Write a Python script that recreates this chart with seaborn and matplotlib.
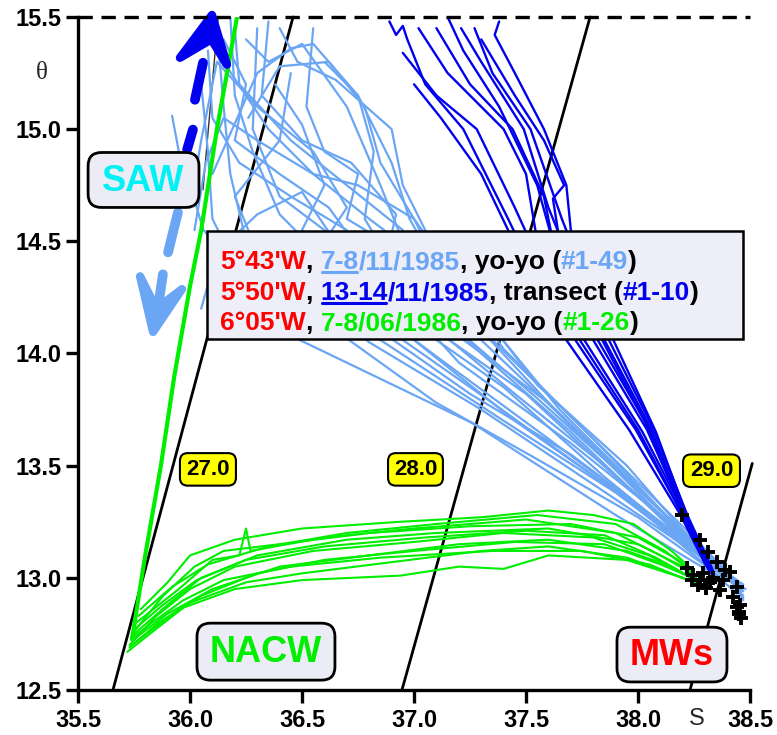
import matplotlib
matplotlib.use('Agg')
import pandas as pd
import seaborn as sns
import matplotlib.pyplot as plt
from matplotlib.patches import FancyBboxPatch

# ---- data (salinity S, potential temperature theta) ----
# 5 43'W yo-yo casts (light blue)
lb_S = [
    [36.12, 36.15, 36.18, 36.25, 36.60, 36.80, 37.30, 37.90, 38.30, 38.45, 38.46],
    [36.25, 36.35, 36.50, 36.70, 36.85, 36.95, 37.20, 37.35, 37.75, 38.10, 38.32, 38.45],
    [36.05, 36.08, 36.10, 36.20, 36.35, 36.49, 37.26, 37.90, 38.30, 38.44],
    [36.30, 36.28, 36.40, 36.60, 36.90, 37.10, 37.50, 37.90, 38.20, 38.35, 38.47],
    [36.15, 36.35, 36.55, 36.75, 37.00, 37.10, 37.30, 37.70, 38.20, 38.40, 38.47],
    [36.45, 36.40, 36.20, 36.30, 36.60, 36.85, 37.40, 37.90, 38.30, 38.44],
    [36.60, 36.75, 36.82, 36.78, 36.90, 37.10, 37.60, 38.00, 38.30, 38.46],
    [35.92, 35.95, 36.00, 36.06, 36.15, 36.35, 36.71, 37.10, 37.53, 38.00, 38.32, 38.44],
    [36.20, 36.22, 36.45, 36.70, 36.95, 37.00, 37.20, 37.55, 38.05, 38.35, 38.45],
    [36.38, 36.50, 36.60, 36.50, 36.80, 37.00, 37.45, 37.95, 38.30, 38.48],
    [36.10, 36.30, 36.45, 36.55, 36.75, 36.90, 36.98, 37.15, 37.35, 37.80, 38.25, 38.43],
    [36.55, 36.52, 36.60, 36.75, 36.70, 36.95, 37.05, 37.30, 37.70, 38.15, 38.40, 38.46],
    [36.00, 36.05, 36.12, 36.30, 36.55, 36.70, 36.60, 36.90, 37.40, 37.85, 38.28, 38.45],
    [36.18, 36.20, 36.28, 36.40, 36.62, 36.88, 37.15, 37.60, 38.05, 38.33, 38.46],
    [36.08, 36.10, 36.22, 36.45, 36.70, 36.62, 36.85, 37.25, 37.70, 38.10, 38.36, 38.47],
    [36.35, 36.32, 36.50, 36.72, 36.92, 36.88, 37.05, 37.45, 37.85, 38.25, 38.44],
    [36.02, 36.07, 36.15, 36.30, 36.55, 36.80, 37.20, 37.65, 38.10, 38.38, 38.47],
    [36.26, 36.40, 36.62, 36.78, 36.85, 37.00, 37.25, 37.55, 37.95, 38.28, 38.45],
    [36.05, 36.12, 36.30, 36.50, 36.58, 36.75, 36.95, 37.35, 37.85, 38.25, 38.44],
    [36.40, 36.48, 36.65, 36.90, 36.95, 37.10, 37.40, 37.80, 38.20, 38.42],
    [36.15, 36.25, 36.20, 36.40, 36.62, 36.80, 37.20, 37.70, 38.15, 38.40, 38.47],
]
lb_T = [
    [15.45, 15.10, 14.80, 14.50, 14.20, 14.05, 13.75, 13.35, 13.08, 12.98, 12.92],
    [15.40, 15.30, 15.38, 15.10, 14.75, 14.50, 14.20, 14.05, 13.62, 13.30, 13.08, 12.95],
    [15.20, 14.90, 14.60, 14.40, 14.20, 14.06, 13.69, 13.28, 13.04, 12.97],
    [15.45, 15.00, 14.70, 14.55, 14.30, 14.10, 13.82, 13.45, 13.20, 13.05, 12.97],
    [15.30, 15.00, 14.80, 14.75, 14.60, 14.40, 14.06, 13.68, 13.18, 13.02, 12.90],
    [15.25, 14.95, 14.70, 14.45, 14.25, 14.06, 13.70, 13.38, 13.08, 12.99],
    [15.30, 15.15, 14.90, 14.60, 14.40, 14.15, 13.78, 13.40, 13.10, 12.96],
    [15.06, 14.90, 14.75, 14.55, 14.45, 14.30, 14.06, 13.78, 13.54, 13.27, 13.04, 12.93],
    [15.45, 15.20, 14.95, 14.75, 14.55, 14.35, 14.10, 13.80, 13.35, 13.06, 12.98],
    [15.20, 15.02, 14.75, 14.55, 14.30, 14.06, 13.70, 13.35, 13.06, 12.95],
    [14.80, 15.25, 15.36, 15.38, 15.15, 14.85, 14.60, 14.30, 14.06, 13.62, 13.18, 12.99],
    [15.45, 15.10, 14.90, 14.80, 14.60, 14.45, 14.25, 14.00, 13.65, 13.22, 13.03, 12.94],
    [14.65, 14.95, 15.30, 15.10, 14.90, 14.65, 14.50, 14.20, 13.85, 13.45, 13.10, 12.97],
    [15.50, 15.15, 14.90, 14.62, 14.40, 14.15, 13.95, 13.62, 13.28, 13.06, 12.96],
    [15.35, 15.05, 14.85, 14.70, 14.55, 14.40, 14.10, 13.82, 13.55, 13.25, 13.05, 12.92],
    [15.48, 15.15, 14.95, 14.85, 14.62, 14.45, 14.15, 13.82, 13.50, 13.14, 12.99],
    [14.55, 14.85, 15.05, 14.95, 14.80, 14.60, 14.30, 13.75, 13.30, 13.05, 12.94],
    [15.05, 15.28, 15.30, 15.10, 14.85, 14.60, 14.25, 13.86, 13.50, 13.12, 12.98],
    [14.20, 14.45, 14.62, 14.72, 14.60, 14.35, 14.06, 13.78, 13.42, 13.12, 12.96],
    [15.45, 15.30, 15.22, 15.00, 14.75, 14.45, 14.02, 13.62, 13.20, 13.00],
    [15.40, 15.20, 14.95, 14.80, 14.65, 14.40, 13.96, 13.60, 13.24, 13.02, 12.91],
]

# 5 50'W transect casts (dark blue)
db_S = [
    [36.89, 36.92, 36.95, 36.97, 37.05, 37.22, 37.42, 37.68, 37.96, 38.19, 38.30, 38.34],
    [36.95, 37.10, 37.28, 37.45, 37.72, 37.99, 38.20, 38.33],
    [37.02, 37.15, 37.40, 37.50, 37.55, 37.76, 38.02, 38.20, 38.32],
    [37.10, 37.25, 37.44, 37.58, 37.62, 37.80, 38.04, 38.21, 38.33],
    [37.21, 37.30, 37.49, 37.60, 37.84, 38.05, 38.21, 38.34],
    [37.27, 37.35, 37.52, 37.66, 37.87, 38.07, 38.22, 38.34],
    [37.38, 37.36, 37.45, 37.58, 37.68, 37.70, 37.89, 38.08, 38.22, 38.33],
    [37.30, 37.45, 37.58, 37.67, 37.62, 37.65, 37.85, 38.06, 38.21, 38.33],
    [37.00, 37.12, 37.30, 37.42, 37.60, 37.82, 38.03, 38.20, 38.32],
    [37.15, 37.22, 37.38, 37.55, 37.74, 38.00, 38.19, 38.32],
]
db_T = [
    [15.48, 15.42, 15.46, 15.40, 15.20, 15.00, 14.60, 14.06, 13.66, 13.28, 13.06, 13.00],
    [15.34, 15.15, 15.00, 14.65, 14.06, 13.66, 13.28, 13.02],
    [15.45, 15.25, 15.00, 14.80, 14.50, 14.06, 13.65, 13.30, 13.05],
    [15.45, 15.20, 15.00, 14.70, 14.50, 14.06, 13.66, 13.28, 13.03],
    [15.45, 15.30, 15.00, 14.65, 14.06, 13.66, 13.28, 13.01],
    [15.45, 15.25, 15.00, 14.60, 14.06, 13.66, 13.28, 13.02],
    [15.48, 15.42, 15.25, 15.00, 14.75, 14.55, 14.06, 13.65, 13.27, 13.04],
    [15.40, 15.15, 14.95, 14.75, 14.69, 14.50, 14.06, 13.66, 13.28, 13.02],
    [15.20, 15.05, 14.80, 14.55, 14.30, 14.06, 13.70, 13.30, 13.05],
    [15.50, 15.35, 15.10, 14.75, 14.06, 13.66, 13.30, 13.04],
]

# 6 05'W yo-yo casts (green): surface segment and NACW band
gr_surf_S = [35.74, 35.80, 35.87, 35.93, 36.00, 36.05, 36.12, 36.21]
gr_surf_T = [12.72, 13.10, 13.50, 13.90, 14.30, 14.55, 15.00, 15.50]
gr_S = [
    [35.78, 35.90, 36.00, 36.20, 36.50, 36.94, 37.30, 37.60, 37.80, 37.98, 38.15, 38.25],
    [35.76, 35.95, 36.10, 36.22, 36.25, 36.27, 36.60, 37.00, 37.50, 37.90, 38.10, 38.24],
    [35.74, 35.90, 36.05, 36.30, 36.70, 37.10, 37.60, 38.00, 38.20, 38.26],
    [35.73, 35.85, 36.00, 36.20, 36.55, 37.00, 37.40, 37.80, 38.05, 38.24],
    [35.74, 35.90, 36.10, 36.40, 36.80, 37.20, 37.60, 37.95, 38.15, 38.25],
    [35.72, 35.82, 36.00, 36.25, 36.50, 36.90, 37.30, 37.60, 37.95, 38.20, 38.26],
    [35.74, 35.95, 36.20, 36.50, 36.94, 37.20, 37.40, 37.60, 37.95, 38.20],
    [35.75, 35.88, 36.02, 36.15, 36.40, 36.80, 37.25, 37.70, 38.00, 38.18, 38.26],
    [35.73, 35.86, 36.05, 36.30, 36.60, 37.00, 37.45, 37.85, 38.10, 38.22],
    [35.77, 35.92, 36.08, 36.35, 36.70, 37.10, 37.55, 37.90, 38.12, 38.25],
    [35.75, 35.88, 36.03, 36.25, 36.60, 37.05, 37.50, 37.85, 38.08, 38.24],
    [35.74, 35.83, 35.97, 36.15, 36.45, 36.85, 37.35, 37.75, 38.05, 38.22],
]
gr_T = [
    [12.86, 12.98, 13.10, 13.17, 13.22, 13.25, 13.27, 13.30, 13.28, 13.24, 13.12, 13.03],
    [12.80, 12.95, 13.08, 13.10, 13.22, 13.12, 13.18, 13.22, 13.26, 13.20, 13.10, 13.02],
    [12.74, 12.88, 13.00, 13.10, 13.17, 13.20, 13.22, 13.15, 13.05, 13.00],
    [12.70, 12.83, 12.95, 13.05, 13.12, 13.16, 13.20, 13.18, 13.10, 13.00],
    [12.72, 12.84, 12.95, 13.05, 13.10, 13.15, 13.17, 13.12, 13.05, 12.99],
    [12.67, 12.75, 12.89, 12.98, 13.02, 13.07, 13.12, 13.14, 13.09, 13.00, 12.98],
    [12.70, 12.86, 12.95, 12.99, 13.01, 13.05, 13.04, 13.10, 13.08, 13.00],
    [12.76, 12.92, 13.05, 13.12, 13.15, 13.20, 13.23, 13.24, 13.18, 13.08, 13.01],
    [12.69, 12.80, 12.92, 13.02, 13.08, 13.12, 13.16, 13.15, 13.06, 13.01],
    [12.83, 12.96, 13.06, 13.14, 13.20, 13.24, 13.28, 13.24, 13.12, 13.02],
    [12.77, 12.88, 12.99, 13.08, 13.14, 13.18, 13.21, 13.19, 13.09, 13.00],
    [12.73, 12.80, 12.90, 12.99, 13.05, 13.09, 13.12, 13.12, 13.06, 12.99],
]

# bottom samples (+)
mw_S = [38.196, 38.277, 38.312, 38.353, 38.388, 38.219, 38.246, 38.277, 38.304,
        38.335, 38.366, 38.411, 38.442, 38.424, 38.455, 38.451, 38.460, 38.268,
        38.240, 38.290, 38.320, 38.380, 38.440, 38.450]
mw_T = [13.278, 13.167, 13.113, 13.069, 13.033, 13.042, 13.011, 12.989, 12.953,
        12.998, 12.944, 13.024, 12.958, 12.913, 12.878, 12.847, 12.820, 12.967,
        12.990, 13.020, 12.980, 12.990, 12.870, 12.840]

# isopycnals sigma-theta
iso_labels = ['27.0', '28.0', '29.0']
iso_S = [[35.656, 36.46], [36.946, 37.786], [38.232, 38.51]]
iso_T = [[12.5, 15.5], [12.5, 15.5], [12.5, 13.51]]
thin_S = [36.125, 36.058]
thin_T = [15.49, 14.73]

x_ticks = [35.5, 36.0, 36.5, 37.0, 37.5, 38.0, 38.5]
y_ticks = [12.5, 13.0, 13.5, 14.0, 14.5, 15.0, 15.5]

LIGHT = '#6aa6f4'
DARK = '#0000ee'
GREEN = '#00ee00'
RED = '#ff0000'
BOXFILL = '#ececf7'


def long_frame(s_lists, t_lists):
    rows = []
    for k, (s, t) in enumerate(zip(s_lists, t_lists)):
        for a, b in zip(s, t):
            rows.append((k, a, b))
    return pd.DataFrame(rows, columns=['cast', 'S', 'T'])


sns.set_style('ticks')
plt.rcParams['font.family'] = ['Liberation Sans', 'DejaVu Sans']

fig = plt.figure(figsize=(7.77, 7.35), dpi=100)
ax = fig.add_axes([0.1004, 0.0612, 0.8649, 0.9157])

# isopycnals
for s, t in zip(iso_S, iso_T):
    ax.plot(s, t, color='black', lw=2.0, zorder=1, clip_on=False)
ax.plot(thin_S, thin_T, color='#333333', lw=1.0, zorder=1)

# profiles
sns.lineplot(data=long_frame(lb_S, lb_T), x='S', y='T', units='cast', estimator=None,
             sort=False, color=LIGHT, lw=1.6, ax=ax, zorder=2)
sns.lineplot(data=long_frame(gr_S, gr_T), x='S', y='T', units='cast', estimator=None,
             sort=False, color=GREEN, lw=1.5, ax=ax, zorder=3)
ax.plot(gr_surf_S, gr_surf_T, color=GREEN, lw=3.0, zorder=4, solid_capstyle='butt')
sns.lineplot(data=long_frame(db_S, db_T), x='S', y='T', units='cast', estimator=None,
             sort=False, color=DARK, lw=1.7, ax=ax, zorder=4)
sns.scatterplot(x=mw_S, y=mw_T, marker='+', s=100, color='black', linewidth=2.8,
                ax=ax, zorder=5)

# arrows (SAW spreading up / down)
ax.plot([35.987, 36.013], [14.909, 14.998], color=DARK, lw=7, solid_capstyle='round', zorder=6)
ax.plot([36.022, 36.058], [15.131, 15.296], color=DARK, lw=7, solid_capstyle='round', zorder=6)
ax.fill([35.955, 36.098, 36.165, 36.095], [15.318, 15.509, 15.287, 15.40],
        color=DARK, lw=6, ec=DARK, joinstyle='round', zorder=6, clip_on=False)
ax.plot([35.946, 35.902], [14.629, 14.451], color=LIGHT, lw=7, solid_capstyle='round', zorder=6)
ax.plot([35.879, 35.846], [14.353, 14.13], color=LIGHT, lw=7, solid_capstyle='round', zorder=6)
ax.fill([35.777, 35.835, 35.964, 35.85], [14.344, 14.096, 14.287, 14.2],
        color=LIGHT, lw=6, ec=LIGHT, joinstyle='round', zorder=6)

# dashed top
ax.plot([35.5, 38.5], [15.5, 15.5], color='black', lw=2.4, ls=(0, (4.3, 2.6)),
        zorder=7, clip_on=False)

# isopycnal labels
label_boxes = [(35.955, 13.411, 0.25), (36.884, 13.411, 0.245), (38.201, 13.405, 0.254)]
for lab, (x0, y0, w) in zip(iso_labels, label_boxes):
    ax.add_patch(FancyBboxPatch((x0, y0), w, 0.145, boxstyle='round,pad=0,rounding_size=0.035',
                                fc='#ffff00', ec='black', lw=1.5, zorder=9))
    ax.text(x0 + w / 2, y0 + 0.0725, lab, ha='center', va='center', fontsize=16,
            fontweight='bold', color='black', zorder=10)

# water-mass labels
wm = [('SAW', '#00f2f2', 35.545, 14.651, 0.495, 0.245),
      ('NACW', GREEN, 36.031, 12.544, 0.616, 0.254),
      ('MWs', RED, 37.906, 12.536, 0.491, 0.244)]
for name, col, x0, y0, w, h in wm:
    ax.add_patch(FancyBboxPatch((x0, y0), w, h, boxstyle='round,pad=0,rounding_size=0.06',
                                fc=BOXFILL, ec='black', lw=2.0, zorder=9, clip_on=False))
    ax.text(x0 + w / 2, y0 + h / 2 - 0.005, name, ha='center', va='center', fontsize=26,
            fontweight='bold', color=col, zorder=10)

# legend box with multicolour text
ax.add_patch(FancyBboxPatch((36.076, 14.064), 2.393, 0.48, boxstyle='square,pad=0',
                            fc='#eeeef8', ec='black', lw=1.8, zorder=11))
legend_rows = [
    [("5°43'W", RED, False), (", ", 'black', False), ("7-8", LIGHT, True),
     ("/11/1985", LIGHT, False), (", yo-yo (", 'black', False), ("#1-49", LIGHT, False),
     (")", 'black', False)],
    [("5°50'W", RED, False), (", ", 'black', False), ("13-14", DARK, True),
     ("/11/1985", DARK, False), (", transect (", 'black', False), ("#1-10", DARK, False),
     (")", 'black', False)],
    [("6°05'W", RED, False), (", ", 'black', False), ("7-8/06/1986", GREEN, False),
     (", yo-yo (", 'black', False), ("#1-26", GREEN, False), (")", 'black', False)],
]
legend_y = [0.6356, 0.5896, 0.5452]
underlined = []
for yfrac, parts in zip(legend_y, legend_rows):
    prev = None
    for txt, col, ul in parts:
        if prev is None:
            t = ax.text(0.2113, yfrac, txt, transform=ax.transAxes, color=col, fontsize=19,
                        fontweight='bold', va='center', ha='left', zorder=12)
        else:
            t = ax.annotate(txt, xy=(1, 0), xycoords=prev, va='bottom', ha='left', color=col,
                            fontsize=19, fontweight='bold', zorder=12)
        if ul:
            underlined.append(t)
        prev = t

# axes styling
ax.set_xlim(35.5, 38.5)
ax.set_ylim(12.5, 15.5)
ax.set_xticks(x_ticks)
ax.set_xticklabels([f'{v:.1f}' for v in x_ticks], fontsize=17, fontweight='bold')
ax.set_yticks(y_ticks)
ax.set_yticklabels([f'{v:.1f}' for v in y_ticks], fontsize=17, fontweight='bold')
ax.set_xlabel('')
ax.set_ylabel('')
ax.tick_params(direction='out', length=9, width=2.4, colors='black', pad=3)
ax.tick_params(axis='x', pad=5)
for side in ['top', 'right']:
    ax.spines[side].set_visible(False)
for side in ['left', 'bottom']:
    ax.spines[side].set_linewidth(2.4)
    ax.spines[side].set_color('black')
ax.text(35.339, 15.251, 'θ', fontsize=18, family=['Liberation Serif', 'DejaVu Serif'],
        ha='center', va='center', clip_on=False)
ax.annotate('S', xy=(38.263, 0), xycoords=('data', 'axes fraction'), xytext=(0, -21),
            textcoords='offset points', ha='center', va='center', fontsize=17)

fig.canvas.draw()
renderer = fig.canvas.get_renderer()
inv = ax.transAxes.inverted()
for t in underlined:
    bb = t.get_window_extent(renderer)
    (x0, y0), (x1, y1) = inv.transform([[bb.x0, bb.y0], [bb.x1, bb.y1]])
    yy = y0 + 0.004
    ax.plot([x0 + 0.002, x1 - 0.002], [yy, yy], transform=ax.transAxes, color=t.get_color(),
            lw=2.2, zorder=12, clip_on=False)

fig.savefig('out.png', dpi=100)
